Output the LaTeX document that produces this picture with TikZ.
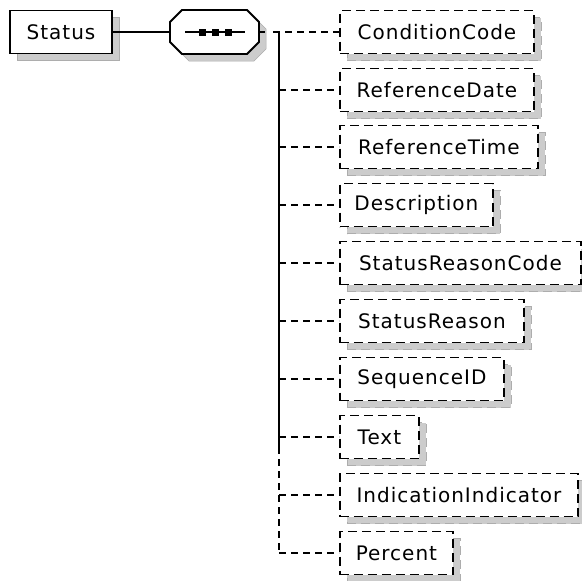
\documentclass[tikz,border=0pt]{standalone}
\usepackage{fontspec}
\setmainfont{DejaVu Sans}[LetterSpace=5]
\usetikzlibrary{shadows}
\definecolor{shadowgray}{HTML}{CCCCCC}
\tikzset{
  shade7/.style={drop shadow={shadow xshift=7pt,shadow yshift=-7pt,fill=shadowgray,draw=shadowgray!85!black,line width=0.5pt,opacity=1}},
  elbox/.style={draw=black,line width=1.9pt,fill=white,rectangle,inner sep=0pt,minimum height=43pt,font=\fontsize{20}{24}\selectfont,shade7},
  optbox/.style={elbox,dash pattern=on 9pt off 5pt,anchor=west},
  conn/.style={draw=black,line width=2pt,dash pattern=on 7pt off 5pt},
  trunk/.style={draw=black,line width=2pt},
  seqanchor/.style={rectangle,inner sep=0pt,minimum width=89pt,minimum height=44pt},
}
\begin{document}
\begin{tikzpicture}[x=1pt,y=-1pt]
\useasboundingbox (0,0) rectangle (582,581);
% root element
\node[elbox,minimum width=102pt] (status) at (61,32) {Status};
% sequence compositor
\fill[shadowgray,draw=shadowgray!85!black,line width=0.5pt,shift={(7,7)}]
  (170,22) -- (182,10) -- (247,10) -- (259,22) -- (259,42) -- (247,54) -- (182,54) -- (170,42) -- cycle;
\draw[line width=1.9pt,fill=white]
  (170,22) -- (182,10) -- (247,10) -- (259,22) -- (259,42) -- (247,54) -- (182,54) -- (170,42) -- cycle;
\node[seqanchor] (seq) at (214.5,32) {};
\draw[line width=1.8pt] (185,32) -- (245,32);
\foreach \dx in {202,215,228} \fill (\dx-3.5,28.5) rectangle (\dx+3.5,35.5);
\draw[trunk] (status.east) -- (seq.west);
% children
\node[optbox,minimum width=194pt] (c1) at (339,32) {ConditionCode};
\node[optbox,minimum width=194pt] (c2) at (339,90) {ReferenceDate};
\node[optbox,minimum width=198pt] (c3) at (339,147) {ReferenceTime};
\node[optbox,minimum width=153pt] (c4) at (339,205) {Description};
\node[optbox,minimum width=241pt] (c5) at (339,263) {StatusReasonCode};
\node[optbox,minimum width=184pt] (c6) at (339,321) {StatusReason};
\node[optbox,minimum width=164pt] (c7) at (339,379) {SequenceID};
\node[optbox,minimum width=79pt] (c8) at (339,437) {Text};
\node[optbox,minimum width=238pt] (c9) at (339,495) {IndicationIndicator};
\node[optbox,minimum width=113pt] (c10) at (339,553) {Percent};
% trunk
\coordinate (t1) at (279,32);
\coordinate (tsplit) at (279,447);
\coordinate (tend) at (279,553);
\draw[trunk] (t1) -- (tsplit);
\draw[conn] (tsplit) -- (tend);
\draw[trunk] (seq.east) -- (265,32);
\draw[conn] (273,32) -- (c1.west);
\foreach \i/\y in {2/90,3/147,4/205,5/263,6/321,7/379,8/437,9/495}
  \draw[conn] (279,\y) -- (c\i.west);
\draw[conn] (tend) -- (c10.west);
\end{tikzpicture}
\end{document}
